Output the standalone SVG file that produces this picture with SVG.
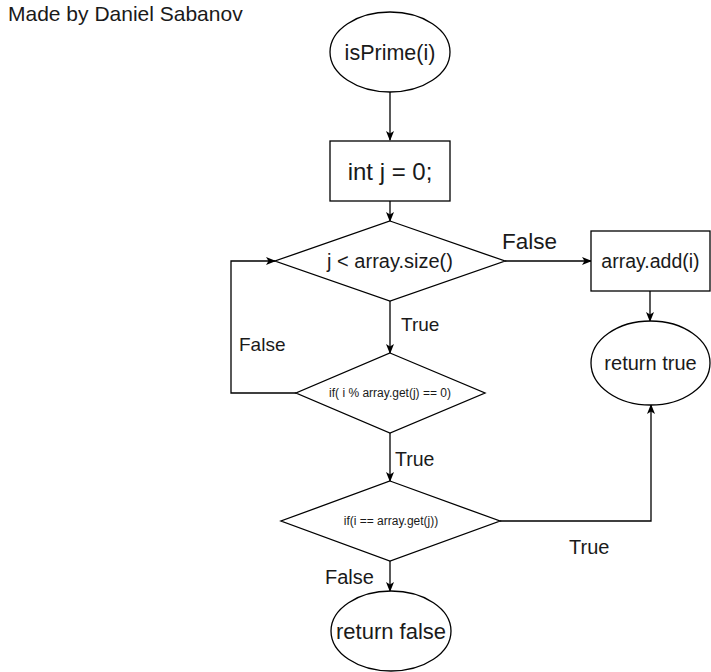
<svg xmlns="http://www.w3.org/2000/svg" width="711" height="672" viewBox="0 0 711 672">
<defs>
<marker id="arr" viewBox="0 0 10 10" refX="9" refY="5" markerWidth="10" markerHeight="10" markerUnits="userSpaceOnUse" orient="auto">
<path d="M0,1 L10,5 L0,9 L2.5,5 Z" fill="#000"/>
</marker>
<style>
.s{fill:#fff;stroke:#000;stroke-width:1.3}
.c{fill:none;stroke:#000;stroke-width:1.3}
.t{font-family:"Liberation Sans",Arial,sans-serif;fill:#1a1a1a;text-anchor:middle}
.l{font-family:"Liberation Sans",Arial,sans-serif;fill:#1a1a1a}
</style>
</defs>
<rect width="711" height="672" fill="#fff"/>
<text class="l" x="8" y="21" font-size="21">Made by Daniel Sabanov</text>
<g id="connectors">
<path class="c" d="M390,92 V140" marker-end="url(#arr)"/>
<path class="c" d="M390,201 V221" marker-end="url(#arr)"/>
<path class="c" d="M505,261 H591" marker-end="url(#arr)"/>
<path class="c" d="M650,291 V321" marker-end="url(#arr)"/>
<path class="c" d="M390,301 V353" marker-end="url(#arr)"/>
<path class="c" d="M296,393 H231 V261 H275" marker-end="url(#arr)"/>
<path class="c" d="M390,433 V481" marker-end="url(#arr)"/>
<path class="c" d="M500,521 H651 V405" marker-end="url(#arr)"/>
<path class="c" d="M390,561 V591" marker-end="url(#arr)"/>
<text class="l" x="502" y="249" font-size="22.5">False</text>
<text class="l" x="401" y="331" font-size="19">True</text>
<text class="l" x="239" y="351" font-size="19">False</text>
<text class="l" x="395" y="466" font-size="19.5">True</text>
<text class="l" x="325" y="584" font-size="20">False</text>
<text class="l" x="569" y="554" font-size="20">True</text>
</g>
<g id="start">
<ellipse class="s" cx="390" cy="52" rx="60" ry="40"/>
<text class="t" x="390" y="60" font-size="21.5">isPrime(i)</text>
</g>
<g id="init">
<rect class="s" x="330" y="141" width="120" height="60"/>
<text class="t" x="390" y="180" font-size="24">int j = 0;</text>
</g>
<g id="loopcond">
<polygon class="s" points="390,221 505,261 390,301 275,261"/>
<text class="t" x="390" y="268" font-size="20">j &lt; array.size()</text>
</g>
<g id="add">
<rect class="s" x="591" y="231" width="119" height="60"/>
<text class="t" x="650.5" y="268" font-size="19.5">array.add(i)</text>
</g>
<g id="rettrue">
<ellipse class="s" cx="650.5" cy="363" rx="59.5" ry="42"/>
<text class="t" x="650.5" y="370" font-size="20">return true</text>
</g>
<g id="modcheck">
<polygon class="s" points="390,353 485,393 390,433 296,393"/>
<text class="t" x="390" y="397" font-size="12">if( i % array.get(j) == 0)</text>
</g>
<g id="eqcheck">
<polygon class="s" points="390,481 500,521 390,561 281,521"/>
<text class="t" x="391" y="525" font-size="12">if(i == array.get(j))</text>
</g>
<g id="retfalse">
<ellipse class="s" cx="391" cy="631" rx="60" ry="40"/>
<text class="t" x="391" y="639" font-size="22">return false</text>
</g>
</svg>
